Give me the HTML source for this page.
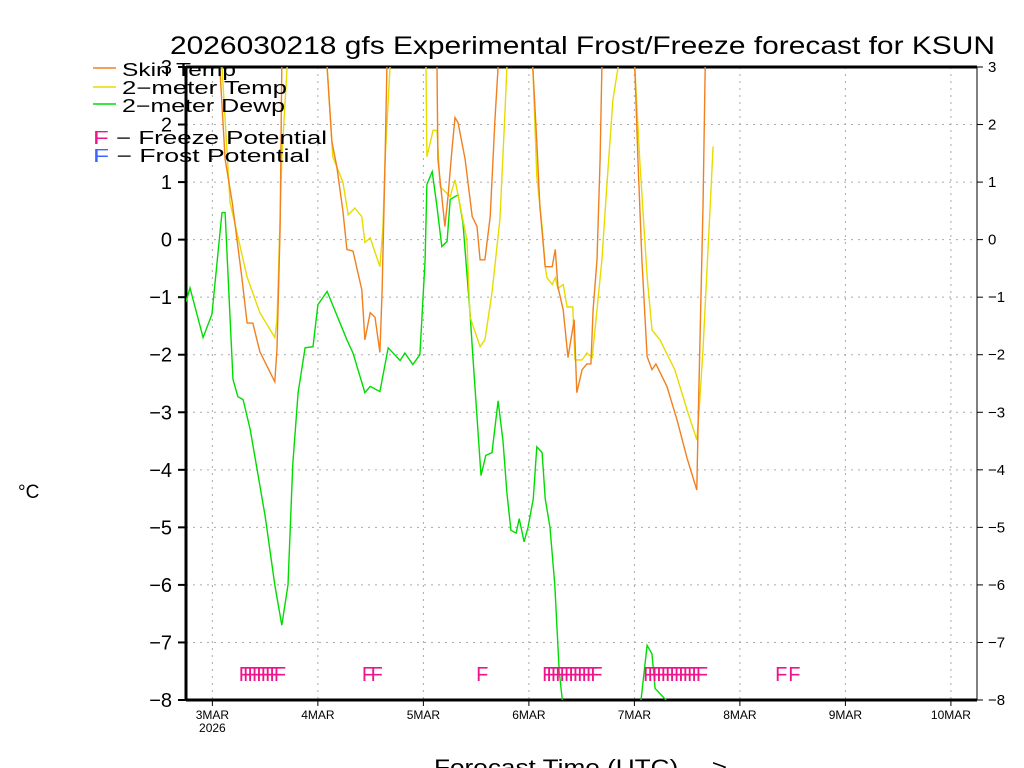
<!DOCTYPE html>
<html><head><meta charset="utf-8"><style>
html,body{margin:0;padding:0;background:#fff;}
svg{display:block;font-family:"Liberation Sans",sans-serif;}
</style></head><body>
<svg id="chart" width="1024" height="768" viewBox="0 0 1024 768" xmlns="http://www.w3.org/2000/svg">
<defs><clipPath id="plotclip"><rect x="186" y="67" width="791" height="633"/></clipPath></defs>
<text x="170" y="54" font-size="25" textLength="825" lengthAdjust="spacingAndGlyphs" fill="#000">2026030218 gfs Experimental Frost/Freeze forecast for KSUN</text>
<g id="grid"></g>
<g id="axes"></g>
<g id="series" clip-path="url(#plotclip)"></g>
<g id="marks"></g>
<g font-size="18" fill="#000">
  <line x1="93" y1="68" x2="116" y2="68" stroke="#f08020" stroke-width="1.5"/>
  <text x="122" y="76" textLength="114" lengthAdjust="spacingAndGlyphs">Skin Temp</text>
  <line x1="93" y1="87" x2="116" y2="87" stroke="#e6dc00" stroke-width="1.5"/>
  <text x="122" y="94" textLength="165" lengthAdjust="spacingAndGlyphs">2−meter Temp</text>
  <line x1="93" y1="104" x2="116" y2="104" stroke="#00dc00" stroke-width="1.5"/>
  <text x="122" y="112" textLength="163" lengthAdjust="spacingAndGlyphs">2−meter Dewp</text>
  <text x="93" y="144" textLength="234" lengthAdjust="spacingAndGlyphs"><tspan fill="#f0148c">F</tspan> − Freeze Potential</text>
  <text x="93" y="162" textLength="217" lengthAdjust="spacingAndGlyphs"><tspan fill="#3c64ff">F</tspan> − Frost Potential</text>
</g>
<text x="18" y="498" font-size="19">°C</text>
<text x="434" y="775" font-size="22" textLength="293" lengthAdjust="spacingAndGlyphs">Forecast Time (UTC) ---&gt;</text>
</svg>
<script>
const yTicks=[3,2,1,0,-1,-2,-3,-4,-5,-6,-7,-8];
const dayLabels=["3MAR","4MAR","5MAR","6MAR","7MAR","8MAR","9MAR","10MAR"];
const dayHours=[6,30,54,78,102,126,150,174];
const skinHours=[0,7.3,7.7,8.9,10.5,12.7,13.9,15.2,16.8,20.2,20.7,21.4,21.8,22.3,28,31.6,32.1,33.2,34.3,35.7,36.6,38,40,40.7,41.9,43,44.1,44.6,45.3,45.7,46.2,51.4,56.9,57.1,57.3,58.9,59.6,60.5,61.2,61.9,63.5,65.1,66.2,66.9,68,69.2,70.3,71,71.4,75,78.7,78.9,79.8,80.5,81.7,83.3,84,84.6,85.8,86.9,87.8,88.3,88.9,90.1,91.2,92.1,92.6,93.5,94.2,94.6,95.1,98.7,101.9,102.1,102.8,103.7,104.9,106,106.9,109.4,111.7,114,116.2,116.5,117.6,118.1,118.5];
const skinVals=[5,4,3,1.4,0.65,-0.65,-1.45,-1.45,-1.95,-2.47,-1.9,0.2,3,6,8,4,3,1.7,1.27,0.5,-0.17,-0.2,-0.87,-1.74,-1.27,-1.35,-1.96,-0.9,1.4,3,6,8,4,3,1.4,0.23,0.75,1.57,2.12,2.03,1.4,0.4,0.23,-0.35,-0.35,0.4,2.1,3,5,8,5,3,1.7,0.57,-0.47,-0.47,-0.17,-0.82,-1.22,-2.05,-1.62,-1.39,-2.66,-2.26,-2.16,-2.16,-1.22,-0.35,1.4,3,5,8,5,3,1.4,-0.35,-2.03,-2.26,-2.16,-2.55,-3.13,-3.8,-4.35,-3.2,0.57,3,5];
const t2Hours=[0,8,8.2,10,13.9,16.8,20.2,20.7,20.9,21.8,23,23.7,27.1,31.8,32.1,33.4,35.7,36.9,38.4,40,40.7,41.9,44.1,44.8,45.3,46.4,47.1,51,54.4,54.6,54.8,56.2,57.1,57.8,60.1,61.2,63.9,64.6,66.9,68,69.6,71.4,72.6,73,73.7,76.4,78.7,78.9,79.8,81,81.7,82.1,83.3,84,84.6,85.8,86.7,88,88.5,90.1,91.2,92.4,93.5,94.6,95.8,97.1,98.3,99.2,101,101.9,102.1,103.2,104.9,106,107.8,111.2,114,116.2,116.7,117.6,119.2,119.9];
const t2Vals=[5,4,3,0.65,-0.65,-1.27,-1.7,-1.4,-0.9,1.4,3,5,8,4,3,1.44,1.0,0.43,0.55,0.4,-0.05,0.03,-0.47,0.2,1.4,3,5,8,4,3,1.44,1.9,1.9,0.92,0.75,1.04,0,-1.34,-1.86,-1.74,-0.92,0.35,2.26,3,5,8,4,3,1.1,0.23,-0.47,-0.66,-0.78,-0.66,-0.85,-0.78,-1.17,-1.17,-2.09,-2.09,-1.97,-2.05,-1.22,-0.35,1.0,2.43,3,5,8,4,3,1.4,-0.64,-1.57,-1.74,-2.26,-2.96,-3.48,-3.0,-1.91,0.52,1.62];
const dewHours=[0,0.9,3.9,5.9,8.2,8.9,10,10.7,11.8,13,14.6,18,20.2,21.8,23.2,24.3,25.5,27.1,28.9,30,32.1,36.6,38,40.7,41.9,44.1,46,48.7,49.8,51.6,53.2,54.4,54.8,56,57.1,58.2,59.4,60.1,61.9,63,64.6,65.3,66.2,67.1,68.2,69.6,71,72.1,73,73.9,75.1,75.8,76.9,77.8,79,79.8,81,81.7,82.8,83.9,84.9,85.6,86,103,103.5,104.9,106,106.7,109.2,109.7];
const dewVals=[-1.08,-0.84,-1.7,-1.3,0.47,0.47,-1.34,-2.43,-2.73,-2.78,-3.3,-4.8,-6.0,-6.7,-6.0,-3.9,-2.66,-1.88,-1.86,-1.13,-0.9,-1.74,-1.97,-2.66,-2.55,-2.64,-1.88,-2.1,-1.97,-2.17,-2.0,-0.35,0.96,1.18,0.57,-0.12,-0.03,0.7,0.78,0.3,-1.27,-2.09,-3.08,-4.1,-3.75,-3.7,-2.8,-3.5,-4.4,-5.05,-5.1,-4.85,-5.25,-5.0,-4.5,-3.6,-3.7,-4.5,-5.0,-6.0,-7.5,-8,-9,-9,-8,-7.05,-7.2,-7.8,-8.0,-9];
const freezeHours=[12,13,14,15,16,17,18,19,20,40,42,66,81,82,83,84,85,86,87,88,89,90,91,92,104,105,106,107,108,109,110,111,112,113,114,115,116,134,137];

const NS="http://www.w3.org/2000/svg";
const X0=186,X1=977,Y0=67,Y1=700,PXH=4.396;
function xs(h){return X0+h*PXH;}
function ys(t){return Y0+(3-t)*(Y1-Y0)/11;}
function mk(tag,attrs,parent){const e=document.createElementNS(NS,tag);for(const k in attrs)e.setAttribute(k,attrs[k]);parent.appendChild(e);return e;}
const grid=document.getElementById('grid'),axes=document.getElementById('axes'),series=document.getElementById('series'),marks=document.getElementById('marks');
yTicks.forEach(t=>{
  const y=ys(t);
  if(t!==3&&t!==-8){const g=mk('line',{x1:X0,x2:X1,y1:y,y2:y,stroke:'#aaa','stroke-dasharray':'2,5'},grid);
  
  }
  const tk=mk('line',{x1:X0-8,x2:X0,y1:y,y2:y,stroke:'#000','stroke-width':2},axes);
  
  
  const tr=mk('line',{x1:X1,x2:X1+6,y1:y,y2:y,stroke:'#000'},axes);
  
  
  const lab=String(t).replace('-','−');
  const l=mk('text',{x:172,y:y+7,'font-size':20,'text-anchor':'end'},axes);l.textContent=lab;
  
  
  const r=mk('text',{x:988,y:y+5,'font-size':15},axes);r.textContent=lab;
  
  
});
dayHours.forEach((h,i)=>{
  const x=xs(h);
  const g=mk('line',{x1:x,x2:x,y1:Y0,y2:Y1,stroke:'#aaa','stroke-dasharray':'2,5'},grid);
  
  
  const tk=mk('line',{x1:x,x2:x,y1:Y1,y2:Y1+6,stroke:'#000'},axes);
  
  
  const l=mk('text',{x:x,y:Y1+19,'font-size':12,'text-anchor':'middle'},axes);l.textContent=dayLabels[i];
  
  
});
const yr=mk('text',{x:xs(dayHours[0]),y:Y1+32,'font-size':12,'text-anchor':'middle'},axes);yr.textContent='2026';


const fr=mk('path',{d:`M${X0},${Y0}H${X1}V${Y1}`,fill:'none',stroke:'#000','stroke-width':1},axes);


const ft=mk('line',{x1:X0,x2:X1,y1:Y0,y2:Y0,stroke:'#000','stroke-width':3},axes);


const fl=mk('line',{x1:X0,x2:X0,y1:Y0,y2:Y1+1,stroke:'#000','stroke-width':3},axes);


const fb=mk('line',{x1:X0,x2:X1,y1:Y1,y2:Y1,stroke:'#000','stroke-width':3},axes);


function line(hs,vs,color,name){
  const d=hs.map((h,i)=>(i?'L':'M')+xs(h).toFixed(1)+','+ys(vs[i]).toFixed(1)).join('');
  const p=mk('path',{d:d,fill:'none',stroke:color,'stroke-width':1.4},series);
  
  
}
line(dewHours,dewVals,'#00dc00','dewpoint-line');
line(t2Hours,t2Vals,'#e6dc00','2m-temp-line');
line(skinHours,skinVals,'#f08020','skin-temp-line');
freezeHours.forEach(h=>{
  const t=mk('text',{x:xs(h),y:681,'font-size':20,fill:'#f0148c'},marks);t.textContent='F';
  
  
});
</script>
</body></html>
